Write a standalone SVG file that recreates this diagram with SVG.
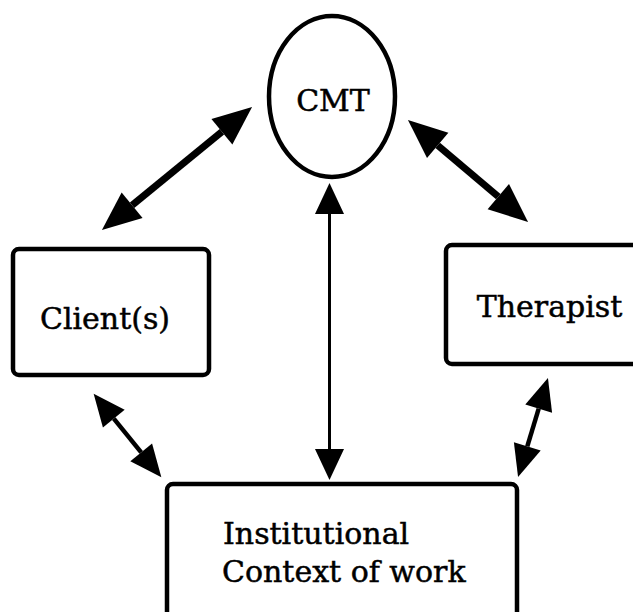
<svg xmlns="http://www.w3.org/2000/svg" width="633" height="612" viewBox="0 0 633 612">
  <style>
    .box { fill: #ffffff; stroke: #000000; stroke-width: 4.5; }
    .lbl { font-family: "DejaVu Serif", "Liberation Serif", serif; font-size: 30px; fill: #000000; stroke: #000000; stroke-width: 0.5; }
    .thick { stroke: #000000; stroke-width: 7; fill: none; }
    .mid { stroke: #000000; stroke-width: 4.5; fill: none; }
    .thin { stroke: #000000; stroke-width: 3; fill: none; }
  </style>
  <defs>
    <marker id="headL" markerUnits="userSpaceOnUse" markerWidth="39" markerHeight="33" refX="0" refY="16.5" orient="auto-start-reverse" overflow="visible">
      <path d="M0,0 L39,16.5 L0,33 Z" fill="#000000"/>
    </marker>
    <marker id="headM" markerUnits="userSpaceOnUse" markerWidth="32" markerHeight="28" refX="0" refY="14" orient="auto-start-reverse" overflow="visible">
      <path d="M0,0 L32,14 L0,28 Z" fill="#000000"/>
    </marker>
    <marker id="headS" markerUnits="userSpaceOnUse" markerWidth="31" markerHeight="29" refX="0" refY="14.5" orient="auto-start-reverse" overflow="visible">
      <path d="M0,0 L31,14.5 L0,29 Z" fill="#000000"/>
    </marker>
  </defs>
  <rect width="633" height="612" fill="#ffffff"/>

  <g id="connectors">
    <line class="thick" x1="132.1" y1="205.3" x2="221.9" y2="131.7" marker-start="url(#headL)" marker-end="url(#headL)"/>
    <line class="thick" x1="437.7" y1="145.3" x2="498.3" y2="196.7" marker-start="url(#headL)" marker-end="url(#headL)"/>
    <line class="thin" x1="329.5" y1="214" x2="329.5" y2="449" marker-start="url(#headS)" marker-end="url(#headS)"/>
    <line class="mid" x1="113.8" y1="418.6" x2="141.2" y2="452.4" marker-start="url(#headM)" marker-end="url(#headM)"/>
    <line class="mid" x1="538.7" y1="408.6" x2="527.3" y2="446.4" marker-start="url(#headM)" marker-end="url(#headM)"/>
  </g>

  <g id="cmt">
    <ellipse class="box" cx="332" cy="96.5" rx="63" ry="80.5"/>
    <text class="lbl" x="333" y="111" text-anchor="middle">CMT</text>
  </g>

  <g id="clients">
    <rect class="box" x="13" y="249" width="196" height="126" rx="6"/>
    <text class="lbl" x="105" y="329" text-anchor="middle">Client(s)</text>
  </g>

  <g id="therapist">
    <rect class="box" x="446" y="245" width="200" height="119" rx="6"/>
    <text class="lbl" x="549.5" y="317" text-anchor="middle">Therapist</text>
  </g>

  <g id="institution">
    <rect class="box" x="167" y="484" width="350" height="150" rx="6"/>
    <text class="lbl" x="223" y="544">Institutional</text>
    <text class="lbl" x="222" y="582">Context of work</text>
  </g>
</svg>
